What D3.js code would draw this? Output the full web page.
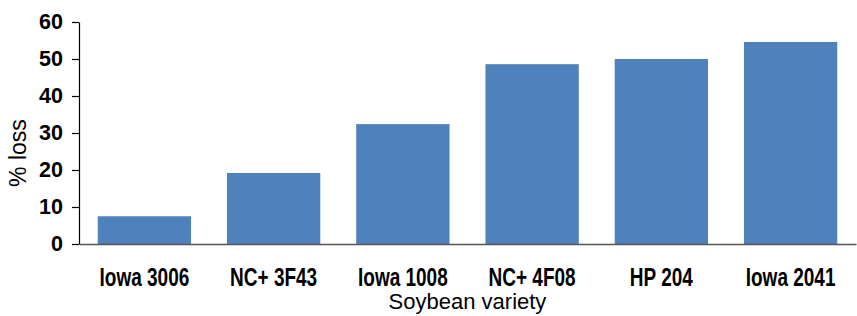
<!DOCTYPE html>
<html>
<head>
<meta charset="utf-8">
<script src="https://cdn.jsdelivr.net/npm/d3@7"></script>
<style>
  body { margin: 0; background: #fff; }
  svg { display: block; }
</style>
</head>
<body>
<div id="main"></div>
<script>
// data
var varieties = ["Iowa 3006", "NC+ 3F43", "Iowa 1008", "NC+ 4F08", "HP 204", "Iowa 2041"];
var lossPct = [7.5, 19.2, 32.4, 48.6, 50.0, 54.6];
var yTicks = [0, 10, 20, 30, 40, 50, 60];

var width = 857, height = 316;
var margin = {top: 22, right: 1, bottom: 72, left: 79};

var svg = d3.select('#main').append('svg')
    .attr('width', width)
    .attr('height', height);

var x = d3.scaleBand()
    .domain(varieties)
    .range([margin.left, width - margin.right])
    .paddingInner(0.278)
    .paddingOuter(0.145);

var y = d3.scaleLinear()
    .domain([0, 60])
    .range([height - margin.bottom, margin.top]);

// bars
svg.append('g').selectAll('rect')
    .data(lossPct)
  .enter().append('rect')
    .attr('x', function(d, i) { return x(varieties[i]); })
    .attr('y', function(d) { return y(d); })
    .attr('width', x.bandwidth())
    .attr('height', function(d) { return y(0) - y(d); })
    .attr('fill', '#4f81bd');

// y axis
var yAxis = svg.append('g')
    .attr('transform', 'translate(' + margin.left + ',0)')
    .call(d3.axisLeft(y).tickValues(yTicks).tickSize(7).tickPadding(9).tickSizeOuter(0));
yAxis.select('.domain').attr('stroke', '#000').attr('stroke-width', 1.2);
yAxis.selectAll('.tick line').attr('stroke', '#000').attr('stroke-width', 1.2);
yAxis.selectAll('.tick text')
    .attr('fill', '#000')
    .style('font-family', '"Liberation Sans", Arial, sans-serif')
    .style('font-weight', 'bold')
    .style('font-size', '21.5px');

// x axis -- no narrow font installed, so squeeze the bold labels sideways
var xAxis = svg.append('g')
    .attr('transform', 'translate(0,' + y(0) + ')')
    .call(d3.axisBottom(x).tickSize(0).tickSizeOuter(0));
xAxis.select('.domain').attr('stroke', '#555').attr('stroke-width', 1.5);
xAxis.selectAll('.tick text')
    .attr('y', 42)
    .attr('dy', 0)
    .attr('transform', 'scale(0.76,1)')
    .attr('fill', '#000')
    .style('font-family', '"Liberation Sans", Arial, sans-serif')
    .style('font-weight', 'bold')
    .style('font-size', '25px');

// axis titles
svg.append('text')
    .attr('x', (margin.left + width - margin.right) / 2)
    .attr('y', 309)
    .attr('text-anchor', 'middle')
    .style('font-family', '"Liberation Sans", Arial, sans-serif')
    .style('font-size', '22px')
    .text('Soybean variety');

svg.append('text')
    .attr('transform', 'translate(26,153) rotate(-90)')
    .attr('text-anchor', 'middle')
    .style('font-family', '"Liberation Sans", Arial, sans-serif')
    .style('font-size', '23px')
    .text('% loss');
</script>
</body>
</html>
